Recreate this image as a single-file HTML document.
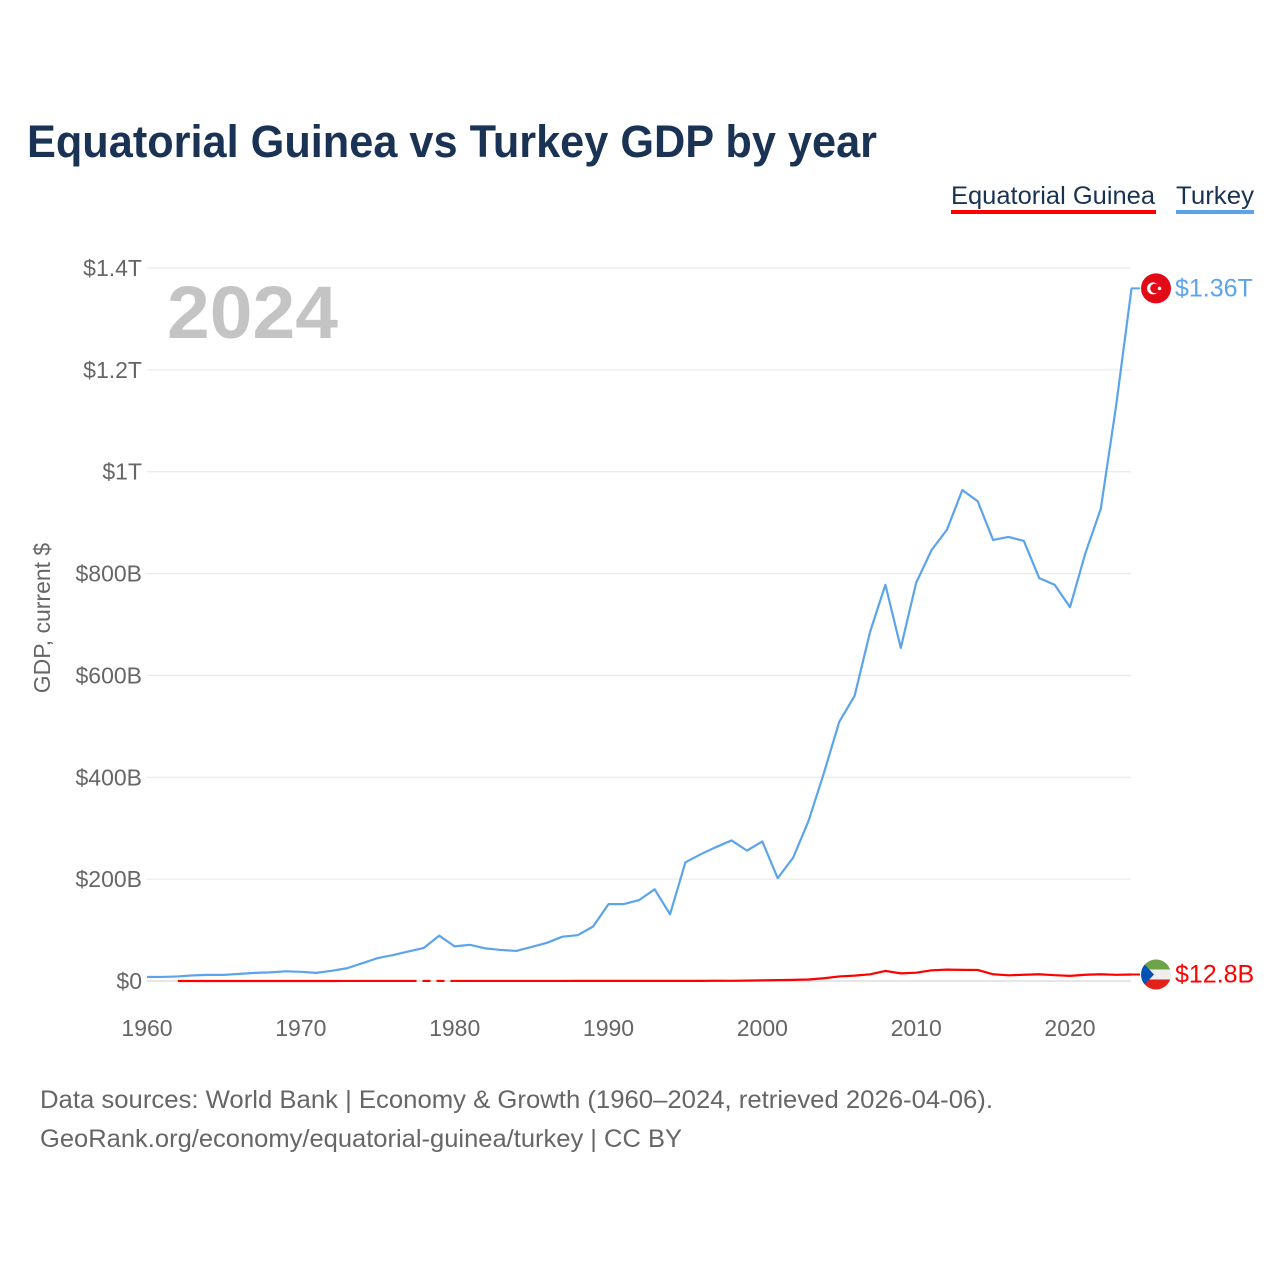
<!DOCTYPE html>
<html><head><meta charset="utf-8"><style>
body{margin:0;background:#fff;font-family:"Liberation Sans",sans-serif;}
#wrap{position:relative;width:1280px;height:1280px;overflow:hidden;}
</style></head><body>
<div id="wrap">
<svg id="chart" width="1280" height="1280">
<text x="27" y="157" font-size="45" font-weight="bold" fill="#1a3354" textLength="850" lengthAdjust="spacingAndGlyphs">Equatorial Guinea vs Turkey GDP by year</text>
<g><text x="951" y="204" font-size="25" fill="#1a3354" textLength="204" lengthAdjust="spacingAndGlyphs">Equatorial Guinea</text><rect x="951" y="210" width="205" height="4" fill="#ff0000"/></g>
<g><text x="1176" y="204" font-size="25" fill="#1a3354" textLength="78" lengthAdjust="spacingAndGlyphs">Turkey</text><rect x="1176" y="210" width="78" height="4" fill="#5ba4ec"/></g>
<text x="167" y="338" font-size="74" font-weight="bold" fill="#c4c4c4" textLength="171" lengthAdjust="spacingAndGlyphs">2024</text>
<text transform="translate(50,618) rotate(-90)" text-anchor="middle" font-size="23" fill="#666">GDP, current $</text>
<g id="grid"></g><g id="series"></g><g id="labels"></g>
<text x="40" y="1108" font-size="25" fill="#666" textLength="953" lengthAdjust="spacingAndGlyphs">Data sources: World Bank | Economy &amp; Growth (1960–2024, retrieved 2026-04-06).</text>
<text x="40" y="1147" font-size="25" fill="#666" textLength="642" lengthAdjust="spacingAndGlyphs">GeoRank.org/economy/equatorial-guinea/turkey | CC BY</text>
</svg></div>
<script>
const yTicks=[0,200,400,600,800,1000,1200,1400];
const yTickLabels=["$0","$200B","$400B","$600B","$800B","$1T","$1.2T","$1.4T"];
const xTicks=[1960,1970,1980,1990,2000,2010,2020];
const turkeyYears=[];for(let y=1960;y<=2024;y++)turkeyYears.push(y);
const turkeyGdp=[8,8,9,11,12,12,14,16,17,19,18,16,20,25,35,45,51,58,65,89,68,71,64,61,59,67,75,87,90,107,151,151,159,180,131,233,249,263,276,256,274,202,242,314,408,509,560,685,778,654,782,846,886,964,942,866,872,864,791,778,734,840,927,1130,1360];
const egYears=[];for(let y=1962;y<=2024;y++)egYears.push(y);
const egGdp=[0.03,0.03,0.03,0.04,0.04,0.04,0.05,0.05,0.06,0.06,0.07,0.08,0.1,0.1,0.1,0.1,null,null,0.1,0.1,0.1,0.1,0.1,0.1,0.1,0.1,0.2,0.2,0.2,0.2,0.2,0.2,0.2,0.2,0.3,0.5,0.4,0.8,1.2,1.7,2.2,3.0,5.4,9.0,10.6,13.1,19.8,15.0,16.3,21.0,22.4,21.9,21.7,13.2,11.2,12.2,13.3,11.4,10.1,12.3,13.3,12.1,12.8];
const X=y=>147+(y-1960)*923/60;
const Y=v=>981-v*713/1400;
const ns="http://www.w3.org/2000/svg";
function mk(p,t,a){const e=document.createElementNS(ns,t);for(const k in a)e.setAttribute(k,a[k]);p.appendChild(e);return e;}
const grid=document.getElementById('grid');
yTicks.forEach((v,i)=>{
 const l=mk(grid,'line',{x1:147,x2:1131,y1:Y(v),y2:Y(v),stroke:i==0?'#ccc':'#e6e6e6','stroke-width':1});
 
 
 const t=mk(grid,'text',{x:142,y:Y(v)+8,'text-anchor':'end','font-size':23,fill:'#666'});t.textContent=yTickLabels[i];
 
 
});
xTicks.forEach(y=>{const t=mk(grid,'text',{x:X(y),y:1036,'text-anchor':'middle','font-size':23,fill:'#666'});t.textContent=y;
 
 });
const ser=document.getElementById('series');
function line(years,vals,color,name){
 let segs=[],cur=[],last=null,gaps=[];
 years.forEach((y,i)=>{const v=vals[i];if(v==null){if(cur.length){segs.push(cur);last=cur[cur.length-1];}cur=[];}else{const p=[X(y),Y(v)];if(!cur.length&&last){gaps.push([last,p]);last=null;}cur.push(p);}});
 if(cur.length)segs.push(cur);
 segs.forEach(s=>{const p=mk(ser,'polyline',{points:s.map(q=>q.join(',')).join(' '),fill:'none',stroke:color,'stroke-width':2.2,'stroke-linejoin':'round'});
  
  });
 gaps.forEach(g=>{const p=mk(ser,'line',{x1:g[0][0],y1:g[0][1],x2:g[1][0],y2:g[1][1],stroke:color,'stroke-width':2.2,'stroke-dasharray':'8,6'});
  
  });
}
line(turkeyYears,turkeyGdp,'#5ba4ec','turkey-line');
line(egYears,egGdp,'#ff0000','equatorial-guinea-line');
const lab=document.getElementById('labels');
let ty=Y(turkeyGdp[turkeyGdp.length-1]);
mk(lab,'line',{x1:1131,y1:ty,x2:1140,y2:ty,stroke:'#5ba4ec','stroke-width':2});
const tf=mk(lab,'g',{});


mk(tf,'circle',{cx:1156,cy:ty,r:15,fill:'#e30a17'});
mk(tf,'circle',{cx:1153,cy:ty,r:6,fill:'#fff'});
mk(tf,'circle',{cx:1155,cy:ty,r:4.8,fill:'#e30a17'});
mk(tf,'circle',{cx:1159.5,cy:ty,r:1.8,fill:'#fff'});
const tl=mk(lab,'text',{x:1175,y:ty+8,'font-size':25,fill:'#5ba4ec'});tl.textContent='$1.36T';


let ey=Y(egGdp[egGdp.length-1]);
mk(lab,'line',{x1:1131,y1:ey,x2:1140,y2:ey,stroke:'#ff0000','stroke-width':2});
const ef=mk(lab,'g',{});


mk(ef,'clipPath',{id:'cp'});mk(document.getElementById('cp'),'circle',{cx:1156,cy:ey,r:15});
const fg=mk(ef,'g',{'clip-path':'url(#cp)'});
mk(fg,'rect',{x:1140,y:ey-15,width:32,height:10,fill:'#6ea34a'});
mk(fg,'rect',{x:1140,y:ey-5,width:32,height:10,fill:'#eee'});
mk(fg,'rect',{x:1140,y:ey+5,width:32,height:10,fill:'#e32118'});
mk(fg,'polygon',{points:`1140,${ey-15} 1154,${ey} 1140,${ey+15}`,fill:'#0053b5'});
const el=mk(lab,'text',{x:1175,y:ey+8,'font-size':25,fill:'#ff0000'});el.textContent='$12.8B';


</script>
</body></html>
